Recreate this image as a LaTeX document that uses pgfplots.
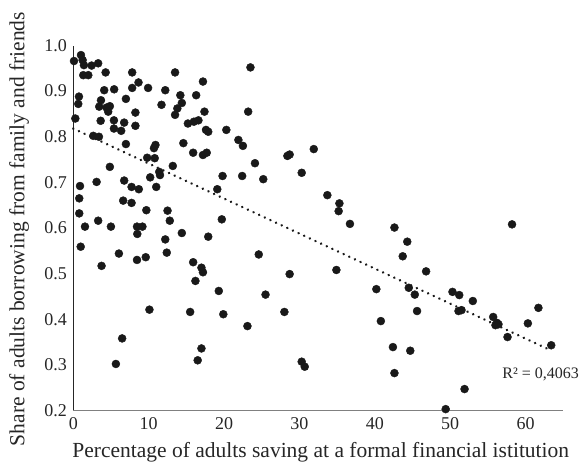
\documentclass[border=0pt]{standalone}
\usepackage{fontspec}
\setmainfont{Liberation Serif}
\usepackage{pgfplots}
\pgfplotsset{compat=1.18}

\begin{document}
\begin{tikzpicture}
\begin{axis}[
  scale only axis,
  width=490pt, height=365pt,
  xmin=0, xmax=65, ymin=0.2, ymax=1.0,
  clip=false,
  axis x line*=bottom, axis y line*=left,
  x axis line style={-, draw=black!50, line width=1.3pt},
  y axis line style={-, draw=black!85, line width=0.9pt},
  xtick={0,10,20,30,40,50,60},
  ytick={0.2,0.3,0.4,0.5,0.6,0.7,0.8,0.9,1.0},
  major tick length=0pt,
  xticklabel shift=3pt,
  yticklabel shift=3pt,
  /pgf/number format/assume math mode=true,
  ticklabel style={font=\fontsize{18}{18}\selectfont, text=black!85},
  yticklabel style={/pgf/number format/.cd, fixed, fixed zerofill, precision=1},
  label style={font=\fontsize{21.5}{21.5}\selectfont, text=black!85},
  xlabel={Percentage of adults saving at a formal financial istitution},
  ylabel={Share of adults borrowing from family and friends},
  xlabel style={at={(axis description cs:0.505,0)}, anchor=base, yshift=-47.5pt},
  ylabel style={at={([xshift=-49pt]axis description cs:0,0.497)}, anchor=base},
]
% countries: saving rate vs. borrowing from family and friends
\addplot[only marks, mark=*, mark size=4pt, draw=black!90, fill=black!90] coordinates {
(0.09,0.966) (1.02,0.979) (1.24,0.968) (1.41,0.957) (1.32,0.935) (1.99,0.935)
(2.43,0.956) (3.30,0.961) (4.29,0.941) (7.81,0.941) (13.5,0.941) (8.65,0.919)
(7.81,0.907) (9.92,0.907) (12.2,0.902) (17.2,0.921) (14.2,0.891) (16.3,0.891)
(4.10,0.902) (5.42,0.904) (0.75,0.888) (0.66,0.872) (0.27,0.840) (3.67,0.880)
(3.44,0.866) (4.41,0.864) (4.85,0.867) (4.63,0.855) (6.98,0.883) (8.24,0.853)
(3.63,0.835) (5.39,0.836) (6.75,0.831) (5.39,0.818) (6.35,0.813) (8.24,0.824)
(11.7,0.870) (14.4,0.874) (13.8,0.862) (13.5,0.848) (17.4,0.855) (15.2,0.829)
(16.0,0.833) (16.6,0.836) (17.6,0.815) (17.9,0.811) (20.3,0.815) (2.65,0.802)
(3.40,0.800) (6.98,0.784) (10.9,0.782) (10.7,0.775) (14.6,0.786) (15.9,0.765)
(17.2,0.760) (17.7,0.765) (9.8,0.754) (10.8,0.753) (4.85,0.734) (13.2,0.736)
(11.4,0.723) (11.5,0.716) (10.2,0.711) (19.8,0.714) (3.09,0.701) (6.75,0.704)
(0.89,0.692) (7.73,0.690) (8.69,0.685) (11.0,0.690) (19.1,0.685) (0.79,0.665)
(6.62,0.660) (7.73,0.655) (9.69,0.639) (12.5,0.638) (0.79,0.632) (3.30,0.616)
(12.8,0.616) (19.7,0.619)
(1.55,0.603) (4.99,0.603) (8.45,0.603) (9.17,0.603) (8.49,0.587) (14.4,0.589)
(0.98,0.559) (12.2,0.575) (17.9,0.581) (6.05,0.544) (12.4,0.546) (8.45,0.530)
(9.61,0.536) (3.75,0.517) (15.9,0.525) (17.0,0.513) (17.2,0.503) (16.2,0.484)
(19.3,0.462) (10.1,0.421) (15.5,0.416) (19.9,0.411) (6.48,0.358) (17.0,0.336)
(16.5,0.310) (5.65,0.302)
(23.5,0.952) (23.2,0.855) (21.9,0.793) (22.5,0.780) (24.1,0.742) (22.4,0.714)
(25.2,0.707) (28.4,0.758) (28.7,0.761) (31.9,0.773) (30.3,0.721) (33.7,0.672)
(35.3,0.654) (35.2,0.637) (36.7,0.609)
(24.6,0.542) (28.7,0.499) (34.9,0.508) (25.5,0.454) (23.1,0.385) (28.0,0.416)
(40.2,0.466) (40.8,0.396) (30.3,0.307) (30.7,0.296)
(42.6,0.601) (58.2,0.608) (44.3,0.570) (43.7,0.538) (46.8,0.505) (44.5,0.469)
(45.3,0.454) (45.6,0.418) (42.4,0.339) (44.7,0.331) (42.6,0.282) (51.9,0.247)
(49.4,0.203) (50.3,0.460) (51.2,0.453) (53.0,0.440) (51.1,0.418) (51.5,0.420)
(55.7,0.405) (56.2,0.392) (56.0,0.387) (56.4,0.389) (57.6,0.361) (60.3,0.391)
(61.7,0.425) (63.4,0.343)
};
% linear trendline
\addplot[black!90, line width=2.7pt, line cap=round, dash pattern=on 0.01pt off 6.2pt]
  coordinates {(0,0.818) (62.8,0.336)};
\node[anchor=base west, font=\fontsize{16}{16}\selectfont, text=black!85, inner sep=0pt]
  at (axis cs:56.9,0.270) {R² = 0,4063};
\end{axis}
\pgfresetboundingbox
\useasboundingbox (-73.3pt,-52.5pt) rectangle (508.7pt,410.5pt);
\end{tikzpicture}
\end{document}
